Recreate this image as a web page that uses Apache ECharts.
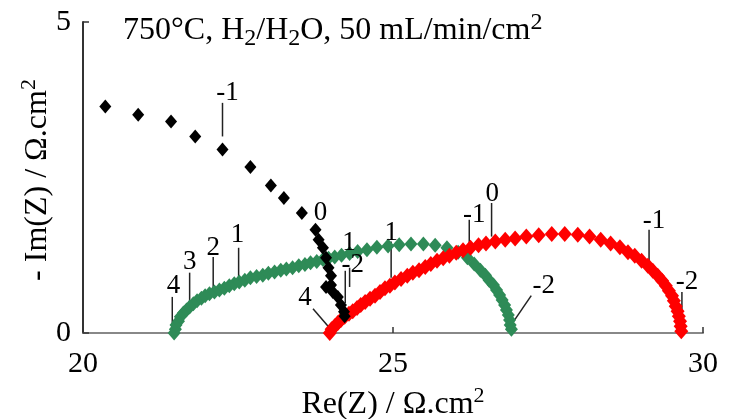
<!DOCTYPE html>
<html><head><meta charset="utf-8">
<script src="https://cdn.jsdelivr.net/npm/echarts@6/dist/echarts.min.js"></script>
<style>html,body{margin:0;padding:0;background:#fff}#c{width:733px;height:419px}</style>
</head><body><div id="c"></div>
<script>
const xTicks = [20, 25, 30];
const yTicks = [0, 5];
const chartTitle = '750°C, H{sub|2}/H{sub|2}O, 50 mL/min/cm{sup|2}';
const xName = 'Re(Z) / Ω.cm{sup|2}';
const yName = '- Im(Z) / Ω.cm{sup|2}';

const blackRe = [20.36,20.89,21.42,21.81,22.25,22.70,23.03,23.24,23.53,23.75,23.80,23.87,23.92,23.96,24.00,23.92,24.00,24.03,24.11,24.16,24.21,24.22];
const blackIm = [3.64,3.51,3.40,3.16,2.95,2.67,2.37,2.17,1.93,1.66,1.50,1.37,1.21,1.05,0.92,0.74,0.77,0.66,0.58,0.45,0.34,0.27];

const greenRe = [21.47,21.49,21.50,21.54,21.57,21.62,21.67,21.72,21.78,21.84,21.91,21.97,22.04,22.12,22.20,22.28,22.36,22.44,22.52,22.61,22.70,22.80,22.90,22.99,23.09,23.19,23.28,23.38,23.48,23.58,23.67,23.77,23.87,23.96,24.06,24.17,24.30,24.43,24.58,24.74,24.92,25.10,25.29,25.49,25.68,25.87,26.05,26.20,26.31,26.41,26.49,26.55,26.62,26.67,26.72,26.76,26.80,26.83,26.86,26.88,26.89,26.91];
const greenIm = [0.00,0.06,0.13,0.19,0.26,0.32,0.37,0.42,0.47,0.52,0.56,0.60,0.63,0.66,0.69,0.72,0.76,0.79,0.82,0.85,0.89,0.91,0.93,0.96,0.98,1.01,1.03,1.05,1.08,1.10,1.13,1.15,1.18,1.20,1.22,1.25,1.28,1.31,1.34,1.38,1.40,1.42,1.43,1.43,1.41,1.37,1.30,1.21,1.11,1.01,0.93,0.85,0.77,0.69,0.61,0.53,0.45,0.37,0.29,0.21,0.13,0.06];

const redRe = [23.98,24.01,24.06,24.11,24.16,24.22,24.29,24.35,24.42,24.48,24.55,24.63,24.71,24.79,24.87,24.95,25.03,25.13,25.23,25.32,25.42,25.52,25.61,25.71,25.81,25.91,26.02,26.13,26.25,26.38,26.50,26.65,26.81,26.97,27.15,27.35,27.56,27.77,27.98,28.17,28.35,28.51,28.66,28.79,28.90,29.01,29.11,29.19,29.27,29.34,29.40,29.45,29.50,29.53,29.56,29.59,29.61,29.63,29.64,29.65];
const redIm = [0.00,0.06,0.11,0.16,0.21,0.26,0.31,0.35,0.40,0.45,0.50,0.55,0.60,0.66,0.72,0.76,0.81,0.87,0.92,0.97,1.01,1.06,1.11,1.16,1.20,1.24,1.29,1.33,1.37,1.41,1.44,1.47,1.50,1.52,1.55,1.57,1.59,1.59,1.58,1.55,1.50,1.44,1.38,1.30,1.24,1.16,1.08,1.00,0.92,0.84,0.76,0.68,0.60,0.52,0.43,0.35,0.27,0.19,0.11,0.03];

// frequency-decade annotations (log10 f)
const labelText = ['-1','0','1','-2','4','4','3','2','1','1','-1','0','-1','-2','-2'];
const labelRe = [22.33,23.83,24.29,24.35,23.58,21.46,21.72,22.10,22.49,24.97,26.31,26.60,29.21,29.74,27.43];
const labelIm = [3.86,1.93,1.45,1.10,0.56,0.76,1.14,1.37,1.58,1.61,1.90,2.24,1.80,0.82,0.76];

const leadX1 = [22.25,24.23,24.30,23.71,21.44,21.72,22.10,22.51,24.97,26.23,26.59,29.13,29.66,27.23];
const leadY1 = [3.70,1.00,1.05,0.39,0.58,0.97,1.22,1.37,1.47,1.82,2.09,1.66,0.66,0.60];
const leadX2 = [22.25,24.23,24.30,23.96,21.44,21.72,22.10,22.51,24.97,26.23,26.59,29.13,29.66,26.94];
const leadY2 = [3.16,0.48,0.74,0.10,0.02,0.42,0.69,0.85,0.89,1.22,1.55,1.14,0.02,0.18];

const pair = (a, b) => a.map((v, i) => [v, b[i]]);
const FONT = 'Liberation Serif';
const supStyle = {fontFamily: FONT, fontSize: 22, verticalAlign: 'top', lineHeight: 24, fill: '#000', color: '#000'};

const chart = echarts.init(document.getElementById('c'), null, {renderer: 'canvas'});
chart.setOption({
  animation: false,
  backgroundColor: '#fff',
  title: {
    text: chartTitle,
    left: 118, top: 6,
    textStyle: {
      fontFamily: FONT, fontSize: 32, fontWeight: 'normal', color: '#000', lineHeight: 40,
      rich: {
        sub: {fontFamily: FONT, fontSize: 24, verticalAlign: 'bottom', lineHeight: 14, color: '#000'},
        sup: {fontFamily: FONT, fontSize: 24, verticalAlign: 'top', lineHeight: 24, color: '#000'}
      }
    }
  },
  graphic: [{
    type: 'text', x: 38, y: 180, rotation: Math.PI / 2, silent: true,
    style: {text: yName, fontFamily: FONT, fontSize: 32, fill: '#000', lineHeight: 40,
      align: 'center', verticalAlign: 'middle', rich: {sup: supStyle}}
  }],
  grid: {left: 83, right: 30, top: 22, bottom: 86, containLabel: false, outerBoundsMode: 'none'},
  xAxis: {
    type: 'value', min: xTicks[0], max: xTicks[xTicks.length - 1], interval: xTicks[1] - xTicks[0],
    name: xName, nameLocation: 'middle', nameGap: 52,
    nameTextStyle: {fontFamily: FONT, fontSize: 32, color: '#000', lineHeight: 40, rich: {sup: supStyle}},
    axisLine: {lineStyle: {color: '#888', width: 2}},
    axisTick: {inside: true, length: 6, lineStyle: {color: '#333', width: 1.5}},
    axisLabel: {fontFamily: FONT, fontSize: 30, color: '#000', margin: 16},
    splitLine: {show: false}
  },
  yAxis: {
    type: 'value', min: yTicks[0], max: yTicks[yTicks.length - 1], interval: yTicks[1] - yTicks[0],
    axisLine: {lineStyle: {color: '#333', width: 2}},
    axisTick: {inside: true, length: 6, lineStyle: {color: '#333', width: 1.5}},
    axisLabel: {fontFamily: FONT, fontSize: 30, color: '#000', margin: 12},
    splitLine: {show: false}
  },
  series: [
    {
      type: 'custom', name: 'leaders', z: 1,
      dimensions: ['x1', 'y1', 'x2', 'y2'], encode: {x: [0, 2], y: [1, 3]},
      data: leadX1.map((v, i) => [v, leadY1[i], leadX2[i], leadY2[i]]),
      renderItem: (params, api) => {
        const p1 = api.coord([api.value(0), api.value(1)]);
        const p2 = api.coord([api.value(2), api.value(3)]);
        return {type: 'line', shape: {x1: p1[0], y1: p1[1], x2: p2[0], y2: p2[1]},
          style: {stroke: '#222', lineWidth: 1.5}};
      }
    },
    {type: 'scatter', name: 'green', z: 2, symbol: 'diamond', symbolSize: [13, 15],
      itemStyle: {color: '#2e8b57', opacity: 1}, data: pair(greenRe, greenIm)},
    {type: 'scatter', name: 'red', z: 3, symbol: 'diamond', symbolSize: [14, 16],
      itemStyle: {color: '#ff0000', opacity: 1}, data: pair(redRe, redIm)},
    {type: 'scatter', name: 'black', z: 4, symbol: 'diamond', symbolSize: [12, 14],
      itemStyle: {color: '#000', opacity: 1}, data: pair(blackRe, blackIm)},
    {
      type: 'custom', name: 'labels', z: 5,
      dimensions: ['x', 'y', 'i'], encode: {x: 0, y: 1},
      data: labelRe.map((v, i) => [v, labelIm[i], i]),
      renderItem: (params, api) => {
        const p = api.coord([api.value(0), api.value(1)]);
        return {type: 'text', x: p[0], y: p[1],
          style: {text: labelText[api.value(2)], fontFamily: FONT, fontSize: 27, fill: '#000',
            align: 'center', verticalAlign: 'middle'}};
      }
    }
  ]
});
</script>
</body></html>
